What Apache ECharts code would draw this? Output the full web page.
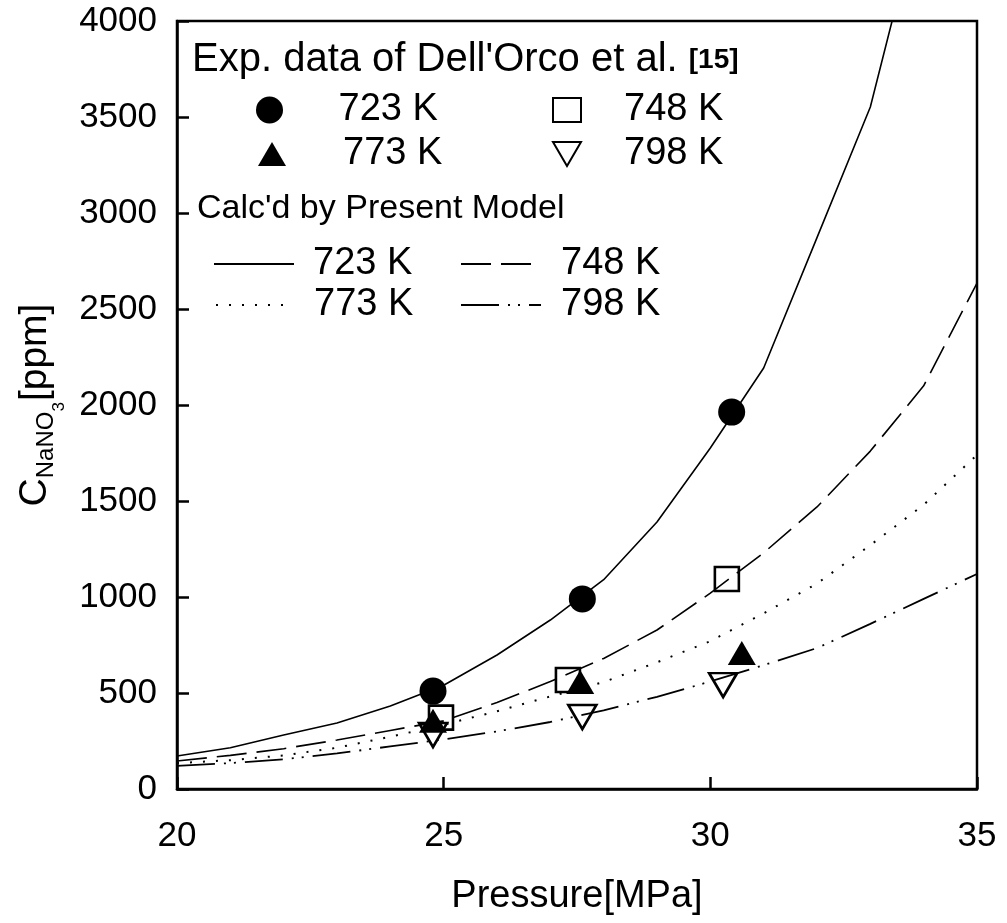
<!DOCTYPE html>
<html>
<head>
<meta charset="utf-8">
<script src="https://cdn.jsdelivr.net/npm/echarts@6/dist/echarts.min.js"></script>
<style>
  html, body { margin: 0; padding: 0; background: #fff; }
  #chart { width: 1007px; height: 923px; }
</style>
</head>
<body>
<div id="chart"></div>
<script>
  // calculated curves, pressure in MPa
  var pressure = [20, 21, 22, 23, 24, 25, 26, 27, 28, 29, 30, 31, 32, 33, 34, 35];
  var calc723 = [172, 215, 281, 344, 432, 540, 698, 880, 1090, 1391, 1776, 2193, 2872, 3552, 4650];
  var calc748 = [146, 175, 210, 255, 305, 355, 450, 560, 680, 828, 1020, 1230, 1469, 1760, 2100, 2635];
  var calc773 = [135, 150, 175, 215, 272, 335, 405, 482, 557, 660, 770, 915, 1070, 1270, 1480, 1740];
  var calc798 = [120, 135, 155, 185, 222, 258, 300, 349, 410, 480, 560, 645, 734, 860, 990, 1120];

  // experimental points (Dell'Orco et al.)
  var exp723P = [24.8, 27.6, 30.4];
  var exp723C = [510, 990, 1963];
  var exp748P = [24.95, 27.33, 30.31];
  var exp748C = [372, 568, 1094];
  var exp773P = [24.8, 27.56, 30.59];
  var exp773C = [355, 557, 708];
  var exp798P = [24.8, 27.6, 30.24];
  var exp798C = [281, 375, 541];

  var FONT = 'Liberation Sans';

  function zip(xs, ys) {
    return ys.map(function (v, i) { return [xs[i], v]; });
  }

  var chart = echarts.init(document.getElementById('chart'));

  function lineSeries(name, vals, dash, width) {
    return {
      name: name,
      type: 'line',
      data: zip(pressure, vals),
      symbol: 'none',
      showSymbol: false,
      z: 1,
      lineStyle: { color: '#000', width: width || 1.6, type: dash, cap: 'butt' },
      itemStyle: { color: '#000' }
    };
  }

  function scatterSeries(name, xs, ys, symbol, size, filled) {
    return {
      name: name,
      type: 'scatter',
      data: zip(xs, ys),
      symbol: symbol,
      symbolSize: size,
      z: 3,
      itemStyle: filled
        ? { color: '#000', opacity: 1 }
        : { color: 'rgba(0,0,0,0)', borderColor: '#000', borderWidth: 2.6, opacity: 1 }
    };
  }

  var downTri = 'path://M0,0 L28,0 L14,24 Z';

  function legendAt(name, left, top, w, h, pad, hideSymbol) {
    return {
      data: [name],
      left: left,
      top: top,
      itemWidth: w,
      itemHeight: h,
      padding: 0,
      selectedMode: false,
      formatter: function (n) { return n.split(' ').slice(1).join(' '); },
      itemStyle: { opacity: hideSymbol ? 0 : 1 },
      textStyle: { fontFamily: FONT, fontSize: 38, color: '#000', padding: [0, 0, 0, pad] }
    };
  }

  var option = {
    animation: false,
    backgroundColor: '#fff',
    grid: {
      left: 177, right: 30, top: 21, bottom: 134,
      outerBoundsMode: 'none',
      show: true, borderColor: '#000', borderWidth: 2.5
    },
    xAxis: {
      type: 'value',
      min: 20, max: 35, interval: 5,
      name: 'Pressure[MPa]',
      nameLocation: 'middle',
      nameGap: 89,
      nameTextStyle: { fontFamily: FONT, fontSize: 38, color: '#000' },
      axisLine: { lineStyle: { color: '#000', width: 2.5 } },
      axisTick: { inside: true, length: 12, lineStyle: { color: '#000', width: 2.5 } },
      axisLabel: { fontFamily: FONT, fontSize: 35, color: '#000', margin: 30 },
      splitLine: { show: false }
    },
    yAxis: {
      type: 'value',
      min: 0, max: 4000, interval: 500,
      name: '{c|C}{s|NaNO}{t|3}{c|[ppm]}',
      nameLocation: 'middle',
      nameGap: 108,
      nameTextStyle: {
        fontFamily: FONT, color: '#000',
        rich: {
          c: { fontFamily: FONT, fontSize: 39, lineHeight: 39, verticalAlign: 'bottom', padding: [0, 0, 13, 0] },
          s: { fontFamily: FONT, fontSize: 24, lineHeight: 24, verticalAlign: 'bottom', padding: [0, 0, 10, 0] },
          t: { fontFamily: FONT, fontSize: 17, lineHeight: 17, verticalAlign: 'bottom', padding: [0, 1, 0, 0] }
        }
      },
      axisLine: { lineStyle: { color: '#000', width: 2.5 } },
      axisTick: { inside: true, length: 12, lineStyle: { color: '#000', width: 2.5 } },
      axisLabel: {
        fontFamily: FONT, fontSize: 35, color: '#000', margin: 20,
        formatter: function (v) { return String(v); }
      },
      splitLine: { show: false }
    },
    legend: [
      legendAt('Exp 723 K', 256, 91, 28, 27, 50),
      legendAt('Exp 748 K', 552, 91, 28, 24, 38),
      legendAt('Exp 773 K', 258, 135, 28, 24, 52),
      legendAt('Exp 798 K', 552, 135, 28, 24, 38),
      legendAt('Calc 723 K', 213, 245, 80, 14, 14, true),
      legendAt('Calc 748 K', 460, 245, 78, 14, 17, true),
      legendAt('Calc 773 K', 215, 286, 68, 14, 25, true),
      legendAt('Calc 798 K', 460, 286, 80, 14, 15, true)
    ],
    graphic: [
      {
        type: 'text', left: 192, top: 40, z: 10,
        style: {
          text: "{a|Exp. data of Dell'Orco et al. }{b|[15]}",
          rich: {
            a: { fontFamily: FONT, fontSize: 40, fill: '#000' },
            b: { fontFamily: FONT, fontSize: 28, fontWeight: 'bold', fill: '#000' }
          }
        }
      },
      {
        type: 'text', left: 197, top: 192, z: 10,
        style: { text: "Calc'd by Present Model", fontFamily: FONT, fontSize: 34, fill: '#000' }
      }
    ],
    series: [
      lineSeries('Calc 723 K', calc723, 'solid'),
      lineSeries('Calc 748 K', calc748, [30, 10]),
      lineSeries('Calc 773 K', calc773, [2, 11], 2),
      lineSeries('Calc 798 K', calc798, [38, 9, 2, 8, 2, 9], 1.8),
      scatterSeries('Exp 723 K', exp723P, exp723C, 'circle', 27, true),
      scatterSeries('Exp 748 K', exp748P, exp748C, 'rect', 24, false),
      scatterSeries('Exp 773 K', exp773P, exp773C, 'triangle', [28, 24], true),
      scatterSeries('Exp 798 K', exp798P, exp798C, downTri, [28, 24], false)
    ]
  };

  chart.setOption(option);
</script>
</body>
</html>
